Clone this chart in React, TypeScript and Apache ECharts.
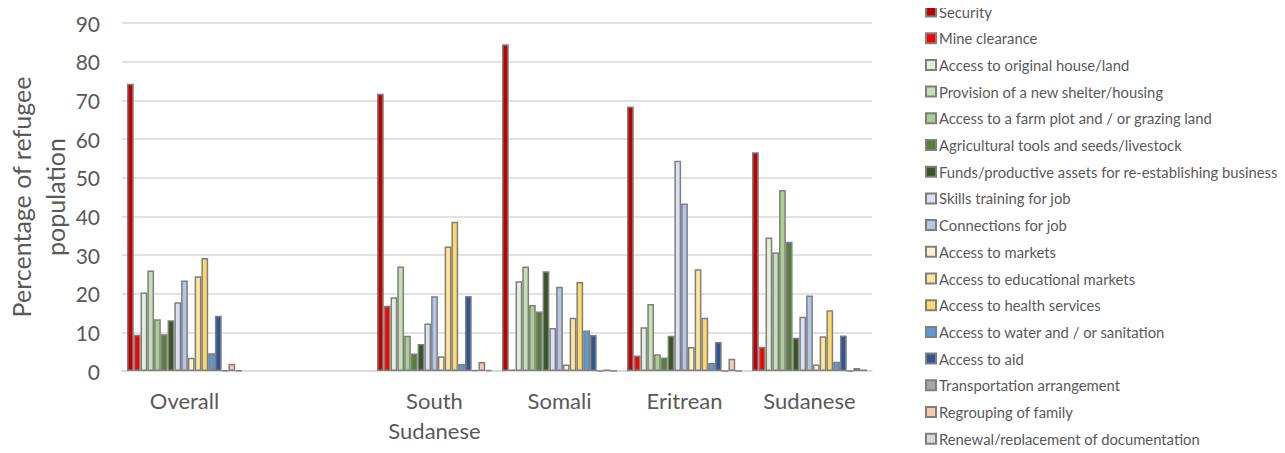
import React, { useEffect, useRef } from "react";
import * as echarts from "echarts";

const categories = ["Overall", "", "South\nSudanese", "Somali", "Eritrean", "Sudanese"];

const seriesNames = [
  "Security",
  "Mine clearance",
  "Access to original house/land",
  "Provision of a new shelter/housing",
  "Access to a farm plot and / or grazing land",
  "Agricultural tools and seeds/livestock",
  "Funds/productive assets for re-establishing business",
  "Skills training for job",
  "Connections for job",
  "Access to markets",
  "Access to educational markets",
  "Access to health services",
  "Access to water and / or sanitation",
  "Access to aid",
  "Transportation arrangement",
  "Regrouping of family",
  "Renewal/replacement of documentation",
];

const seriesColors = [
  "#C00000", "#FF0000", "#E2EFDA", "#C6E0B4", "#A9D08E", "#548235", "#375623",
  "#D9E1F2", "#B4C6E7", "#FFF2CC", "#FFE699", "#FFD966", "#5B9BD5", "#2F5597",
  "#A6A6A6", "#F8CBAD", "#D9D9D9",
];

// values per category: Overall, (blank), South Sudanese, Somali, Eritrean, Sudanese
const security = [74.3, null, 71.7, 84.5, 68.4, 56.6];
const mineClearance = [9.4, null, 16.9, 0.4, 4.0, 6.3];
const originalHouse = [20.3, null, 19.1, 23.2, 11.3, 34.5];
const newShelter = [26.0, null, 27.0, 27.0, 17.3, 30.7];
const farmPlot = [13.4, null, 9.1, 17.1, 4.3, 46.8];
const agriTools = [9.5, null, 4.5, 15.4, 3.5, 33.4];
const funds = [13.1, null, 7.0, 25.8, 9.1, 8.6];
const skillsTraining = [17.8, null, 12.3, 11.1, 54.4, 14.0];
const connections = [23.4, null, 19.3, 21.8, 43.3, 19.5];
const markets = [3.4, null, 3.8, 1.7, 6.2, 1.7];
const educational = [24.5, null, 32.2, 13.8, 26.3, 9.0];
const health = [29.2, null, 38.6, 23.0, 13.8, 15.7];
const water = [4.6, null, 1.8, 10.5, 2.1, 2.4];
const aid = [14.3, null, 19.4, 9.3, 7.5, 9.2];
const transportation = [0.1, null, 0.2, 0, 0, 0];
const regrouping = [1.9, null, 2.3, 0.4, 3.2, 0.8];
const renewal = [0.1, null, 0.3, 0, 0, 0.4];

const seriesValues = [
  security, mineClearance, originalHouse, newShelter, farmPlot, agriTools, funds,
  skillsTraining, connections, markets, educational, health, water, aid,
  transportation, regrouping, renewal,
];

const FONT = "Lato, 'Open Sans', sans-serif";

export default function App() {
  const ref = useRef<HTMLDivElement>(null);
  useEffect(() => {
    if (!ref.current) return;
    const chart = echarts.init(ref.current, undefined, { renderer: "svg" });
    chart.setOption({
      animation: false,
      backgroundColor: "#ffffff",
      textStyle: { fontFamily: FONT },
      grid: { left: 122, right: 413, top: 23, bottom: 82, containLabel: false, outerBoundsMode: "none" },
      legend: {
        orient: "vertical",
        left: 925,
        top: 4,
        height: 452,
        padding: 0,
        itemWidth: 10,
        itemHeight: 10,
        itemGap: 11.7,
        icon: "rect",
        textStyle: { color: "#595959", fontSize: 14.8, fontFamily: FONT, padding: [0, 0, 0, -2] },
        data: seriesNames,
      },
      xAxis: {
        type: "category",
        data: categories,
        axisLine: { show: true, lineStyle: { color: "#D9D9D9", width: 1.5 } },
        axisTick: { show: false },
        axisLabel: { color: "#595959", fontSize: 22, fontFamily: FONT, lineHeight: 30, margin: 14, interval: 0 },
      },
      yAxis: {
        type: "value",
        min: 0,
        max: 90,
        interval: 10,
        name: "Percentage of refugee\npopulation",
        nameLocation: "middle",
        nameGap: 50,
        nameMoveOverlap: false,
        nameTextStyle: { color: "#595959", fontSize: 25, fontFamily: FONT, lineHeight: 34 },
        axisLine: { show: false },
        axisTick: { show: false },
        axisLabel: { color: "#595959", fontSize: 21, fontFamily: FONT, margin: 22 },
        splitLine: { lineStyle: { color: "#D9D9D9", width: 1.5 } },
      },
      series: seriesNames.map((name, i) => ({
        name,
        type: "bar",
        data: seriesValues[i],
        barGap: "0%",
        barCategoryGap: "8%",
        itemStyle: { color: seriesColors[i], borderColor: "#7F7F7F", borderWidth: 1.5 },
      })),
    });
    return () => chart.dispose();
  }, []);
  return <div ref={ref} style={{ width: 1285, height: 453, margin: -8 }} />;
}
